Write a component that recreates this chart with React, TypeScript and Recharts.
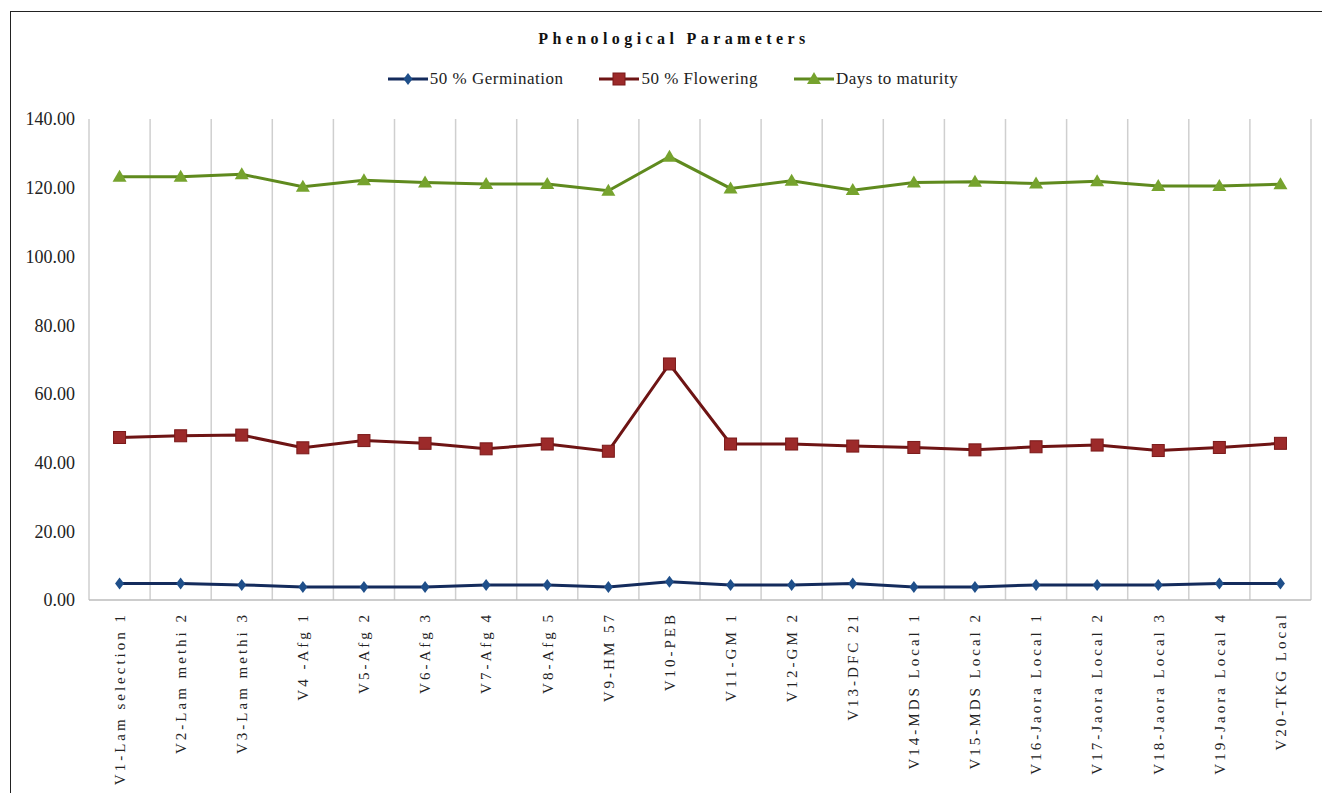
import React from "react";
import {CartesianGrid, Legend, Line, LineChart, XAxis, YAxis} from "recharts";

const varieties = [
  "V1-Lam selection 1", "V2-Lam methi 2", "V3-Lam methi 3", "V4 -Afg 1", "V5-Afg 2",
  "V6-Afg 3", "V7-Afg 4", "V8-Afg 5", "V9-HM 57", "V10-PEB",
  "V11-GM 1", "V12-GM 2", "V13-DFC 21", "V14-MDS Local 1", "V15-MDS Local 2",
  "V16-Jaora Local 1", "V17-Jaora Local 2", "V18-Jaora Local 3", "V19-Jaora Local 4", "V20-TKG Local",
];
const germination = [4.8, 4.8, 4.4, 3.8, 3.8, 3.8, 4.4, 4.4, 3.8, 5.3, 4.4, 4.4, 4.8, 3.8, 3.8, 4.4, 4.4, 4.4, 4.8, 4.8];
const flowering = [47.3, 47.8, 48.0, 44.3, 46.4, 45.6, 44.0, 45.4, 43.3, 68.7, 45.4, 45.4, 44.8, 44.4, 43.7, 44.6, 45.1, 43.5, 44.4, 45.6];
const maturity = [123.2, 123.2, 123.9, 120.3, 122.2, 121.5, 121.1, 121.1, 119.1, 129.0, 119.8, 122.0, 119.3, 121.5, 121.7, 121.2, 121.9, 120.5, 120.5, 121.0];
const yTicks = [0, 20, 40, 60, 80, 100, 120, 140];

const data = varieties.map((name, i) => ({
  name,
  germination: germination[i],
  flowering: flowering[i],
  maturity: maturity[i],
}));

const FONT = '"Liberation Serif", "Times New Roman", serif';
const PLOT_W = 1222;

const series = [
  {key: "germination", label: "50 % Germination", line: "#142b5c", fill: "#1f4f8a", shape: "diamond"},
  {key: "flowering", label: "50 % Flowering", line: "#6e1414", fill: "#9c2a2a", shape: "square"},
  {key: "maturity", label: "Days to maturity", line: "#5f8a1e", fill: "#76a32e", shape: "triangle"},
];

const Marker = ({cx, cy, shape, fill}: any) => {
  if (cx == null || cy == null) return null;
  if (shape === "diamond") {
    return <polygon points={`${cx},${cy - 6} ${cx + 4.5},${cy} ${cx},${cy + 6} ${cx - 4.5},${cy}`} fill={fill}/>;
  }
  if (shape === "square") {
    return <rect x={cx - 6} y={cy - 6} width={12} height={12} fill={fill} stroke="#7a1818" strokeWidth={1}/>;
  }
  return <polygon points={`${cx},${cy - 7} ${cx + 7},${cy + 5} ${cx - 7},${cy + 5}`} fill={fill}/>;
};

const XTick = ({x, y, payload}: any) => (
  <g transform={`translate(${x},${y})`}>
    <text transform="rotate(-90)" x={-4} y={0} dy="0.35em" textAnchor="end"
          fontFamily={FONT} fontSize={15} letterSpacing={3} fill="#222">
      {payload.value}
    </text>
  </g>
);

const LegendContent = () => (
  <div style={{display: "flex", justifyContent: "center", gap: 36, paddingLeft: 24,
    fontFamily: FONT, fontSize: 17, letterSpacing: 0.5, color: "#222"}}>
    {series.map(s => (
      <div key={s.key} style={{display: "flex", alignItems: "center"}}>
        <svg width={40} height={16}>
          <line x1={0} y1={8} x2={40} y2={8} stroke={s.line} strokeWidth={3}/>
          <Marker cx={20} cy={8} shape={s.shape} fill={s.fill}/>
        </svg>
        <span style={{marginLeft: 2}}>{s.label}</span>
      </div>
    ))}
  </div>
);

export default function App() {
  return (
    <div style={{position: "fixed", left: 0, top: 0, width: 1322, height: 793, overflow: "hidden", background: "#fff"}}>
      <div style={{position: "absolute", left: 10, top: 11, width: 1330, height: 800, border: "1.5px solid #222", boxSizing: "border-box"}}/>
      <div style={{
        position: "absolute", left: 13, top: 30, width: 1322, textAlign: "center",
        fontFamily: FONT, fontWeight: "bold", fontSize: 16, letterSpacing: 4.4, color: "#111",
      }}>
        Phenological Parameters
      </div>
      <div style={{position: "absolute", left: 0, top: 0}}>
        <LineChart width={1322} height={793} data={data}
                   margin={{top: 99, right: 11, bottom: 3, left: 9}}>
          <CartesianGrid horizontal={false} stroke="#cfcfcf" strokeWidth={1.5}
                         verticalCoordinatesGenerator={({offset}: any) =>
                           Array.from({length: varieties.length + 1}, (_, i) => offset.left + i * offset.width / varieties.length)}/>
          <XAxis dataKey="name" interval={0} height={190} tick={<XTick/>}
                 padding={{left: PLOT_W / varieties.length / 2, right: PLOT_W / varieties.length / 2}}
                 axisLine={{stroke: "#bdbdbd", strokeWidth: 1.5}} tickLine={false}/>
          <YAxis width={80} domain={[0, 140]} ticks={yTicks} axisLine={false} tickLine={false}
                 tickFormatter={(v: number) => v.toFixed(2)} tickMargin={8}
                 tick={{fontFamily: FONT, fontSize: 18, fill: "#222"}}/>
          <Legend verticalAlign="top" content={<LegendContent/>}
                  wrapperStyle={{top: 69, left: 0, width: 1322}}/>
          {series.map(s => (
            <Line key={s.key} dataKey={s.key} name={s.label} stroke={s.line} strokeWidth={3}
                  isAnimationActive={false}
                  dot={(p: any) => <Marker key={p.index} cx={p.cx} cy={p.cy} shape={s.shape} fill={s.fill}/>}/>
          ))}
        </LineChart>
      </div>
    </div>
  );
}
